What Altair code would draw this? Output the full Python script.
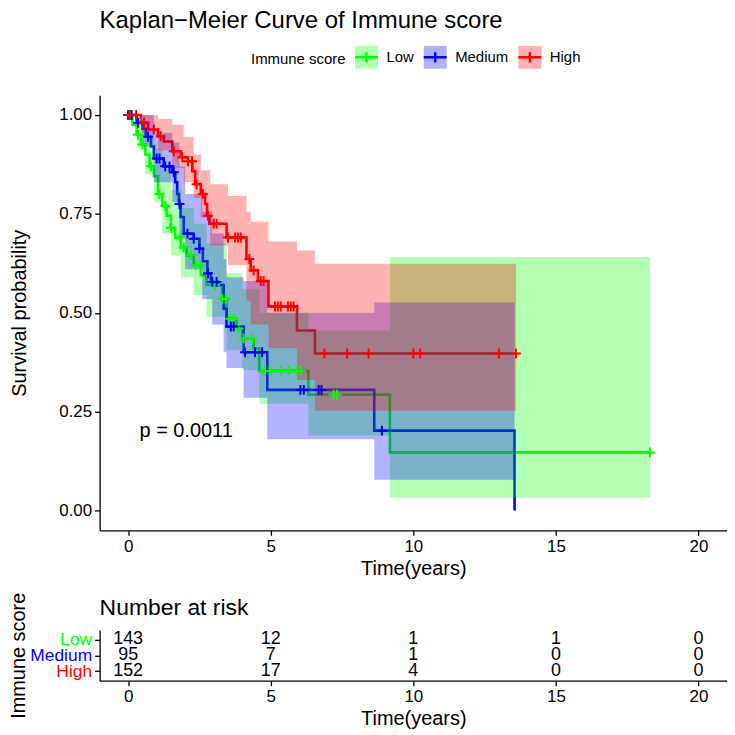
import altair as alt
import numpy as np
import pandas as pd

FONT = "Liberation Sans"
GROUPS = ["Low", "Medium", "High"]
COLORS = ["#00FF00", "#0000FF", "#FF0000"]

# ---- Kaplan-Meier step curves (time in years, survival after the step) ----
low_t = [0, 0.15, 0.30, 0.45, 0.60, 0.75, 0.90, 1.05, 1.20, 1.35, 1.50, 1.65, 1.85, 2.05, 2.30,
         2.55, 2.75, 3.30, 3.45, 3.80, 4.00, 4.40, 4.60, 6.32, 9.18, 18.3]
low_s = [1.0, 0.975, 0.95, 0.925, 0.90, 0.87, 0.845, 0.80, 0.77, 0.745, 0.715, 0.69, 0.665, 0.645, 0.62,
         0.595, 0.57, 0.535, 0.485, 0.46, 0.435, 0.41, 0.353, 0.293, 0.147, 0.147]

med_t = [0, 0.30, 0.50, 0.62, 0.80, 0.90, 1.25, 1.55, 1.65, 1.72, 1.78, 1.84, 1.95, 2.30, 2.50,
         2.62, 2.78, 2.90, 3.15, 3.35, 3.45, 4.05, 4.88, 8.63, 13.55]
med_s = [1.0, 0.98, 0.965, 0.945, 0.92, 0.89, 0.87, 0.855, 0.83, 0.80, 0.775, 0.742, 0.70, 0.687, 0.662,
         0.63, 0.60, 0.578, 0.57, 0.51, 0.465, 0.40, 0.305, 0.202, 0.0]

high_t = [0, 0.45, 0.70, 1.05, 1.25, 1.55, 1.85, 2.10, 2.25, 2.35, 2.55, 2.70, 2.77, 2.85, 3.45,
          4.15, 4.30, 4.55, 4.92, 5.92, 6.55, 13.6]
high_s = [1.0, 0.98, 0.963, 0.946, 0.933, 0.908, 0.893, 0.883, 0.858, 0.825, 0.80, 0.775, 0.745, 0.725, 0.69,
          0.636, 0.607, 0.580, 0.516, 0.455, 0.397, 0.397]

# ---- censoring times ----
low_c = [0.1, 0.35, 0.5, 0.8, 1.1, 1.3, 1.5, 1.84, 1.95, 2.2, 2.37, 2.54, 3.05, 3.3, 3.42, 3.58, 3.7,
         3.87, 4.05, 4.37, 4.78, 5.0, 5.36, 5.63, 5.92, 6.05, 7.2, 7.32, 18.3]
med_c = [0.0, 0.12, 0.35, 0.7, 1.0, 1.1, 1.3, 1.45, 1.6, 1.8, 2.08, 2.3, 2.5, 2.8, 2.95, 3.1, 3.6, 3.7,
         4.1, 4.45, 4.7, 6.04, 6.16, 6.68, 6.78, 8.9]
high_c = [0.04, 0.28, 0.56, 0.9, 1.14, 1.6, 1.9, 2.1, 2.24, 2.4, 2.62, 2.8, 3.0, 3.1, 3.5, 3.75, 3.85,
          3.95, 4.25, 4.4, 4.65, 4.75, 5.15, 5.25, 5.35, 5.6, 5.7, 5.8, 6.88, 7.68, 8.43, 10.0, 10.24,
          13.0, 13.6]

# ---- 95% confidence bands (step) ----
low_bt = [0, 0.3, 0.6, 0.9, 1.2, 1.5, 1.85, 2.3, 2.75, 3.45, 4.0, 4.6, 6.32, 9.18, 18.3]
low_lo = [1.0, 0.92, 0.85, 0.78, 0.70, 0.645, 0.59, 0.545, 0.49, 0.405, 0.355, 0.27, 0.19, 0.033, 0.033]
low_hi = [1.0, 0.995, 0.955, 0.915, 0.86, 0.81, 0.765, 0.725, 0.675, 0.60, 0.56, 0.50, 0.455, 0.641, 0.641]

med_bt = [0, 0.5, 0.9, 1.55, 1.8, 2.0, 2.6, 2.95, 3.35, 3.45, 4.05, 4.88, 8.63, 13.55]
med_lo = [1.0, 0.92, 0.83, 0.78, 0.69, 0.61, 0.535, 0.47, 0.40, 0.36, 0.285, 0.18, 0.078, 0.078]
med_hi = [1.0, 1.0, 0.955, 0.93, 0.87, 0.80, 0.755, 0.70, 0.635, 0.59, 0.58, 0.50, 0.526, 0.526]

high_bt = [0, 0.45, 1.05, 1.55, 1.95, 2.3, 2.55, 2.88, 3.5, 4.15, 4.3, 4.92, 5.92, 6.55, 13.6]
high_lo = [1.0, 0.955, 0.91, 0.865, 0.83, 0.79, 0.74, 0.67, 0.62, 0.53, 0.47, 0.41, 0.33, 0.252, 0.252]
high_hi = [1.0, 1.0, 0.99, 0.975, 0.945, 0.90, 0.86, 0.825, 0.795, 0.755, 0.73, 0.68, 0.657, 0.624, 0.624]

# ---- number at risk ----
risk_times = [0, 5, 10, 15, 20]
risk_low = [143, 12, 1, 1, 0]
risk_med = [95, 7, 1, 0, 0]
risk_high = [152, 17, 4, 0, 0]

pval_text = "p = 0.0011"
pval_t, pval_s = 0.4, 0.2

# ---------------- build tables ----------------
curves = {"Low": (low_t, low_s), "Medium": (med_t, med_s), "High": (high_t, high_s)}
censors = {"Low": low_c, "Medium": med_c, "High": high_c}
bands = {"Low": (low_bt, low_lo, low_hi), "Medium": (med_bt, med_lo, med_hi),
         "High": (high_bt, high_lo, high_hi)}
risks = {"Low": risk_low, "Medium": risk_med, "High": risk_high}

curve_rows, cens_rows, band_rows, risk_rows = [], [], [], []
for g in GROUPS:
    ts, ss = curves[g]
    for t, s in zip(ts, ss):
        curve_rows.append({"group": g, "time": t, "surv": s})
    ta, sa = np.array(ts), np.array(ss)
    for c in censors[g]:
        i = max(int(np.searchsorted(ta, c, side="right")) - 1, 0)
        cens_rows.append({"group": g, "time": c, "surv": float(sa[i])})
    bt, lo, hi = bands[g]
    for t, l, h in zip(bt, lo, hi):
        band_rows.append({"group": g, "time": t, "lower": l, "upper": h})
    for t, n in zip(risk_times, risks[g]):
        risk_rows.append({"group": g, "time": t, "n": n})

curve_df = pd.DataFrame(curve_rows)
cens_df = pd.DataFrame(cens_rows)
band_df = pd.DataFrame(band_rows)
risk_df = pd.DataFrame(risk_rows)
pval_df = pd.DataFrame({"time": [pval_t], "surv": [pval_s], "label": [pval_text]})

W = 630
H_MAIN = 437
H_RISK = 51

xscale = alt.Scale(domain=[-1, 21], nice=False, zero=False)
yscale = alt.Scale(domain=[-0.05, 1.05], nice=False, zero=False)
xaxis = alt.Axis(values=[0, 5, 10, 15, 20], title="Time(years)", titlePadding=4)

X = alt.X("time:Q", scale=xscale, axis=xaxis)
Y = alt.Y("surv:Q", scale=yscale,
          axis=alt.Axis(values=[0, 0.25, 0.5, 0.75, 1.0], format=".2f",
                        title="Survival probability", titlePadding=29))

LEG_COMMON = dict(
    title="Immune score", orient="none", legendX=152, legendY=-51,
    direction="horizontal", titleOrient="left", gridAlign="none",
    symbolSize=529, symbolStrokeWidth=2.5, labelLimit=200,
    labelFontSize=15, titleFontSize=15, labelFont=FONT, titleFont=FONT,
    labelColor="black", titleColor="black", titleFontWeight="normal",
    labelOffset=7, columnPadding=4, titlePadding=7, padding=0, offset=0,
)

stroke_enc = alt.Stroke(
    "group:N",
    scale=alt.Scale(domain=GROUPS, range=COLORS),
    legend=alt.Legend(
        symbolType="M-1,-1M1,1M-1,0L1,0M0,-0.45L0,0.45",
        symbolFillColor="transparent", titleOpacity=0, labelOpacity=0,
        **LEG_COMMON,
    ),
)

fill_enc = alt.Fill(
    "group:N",
    sort=GROUPS,
    scale=alt.Scale(range=COLORS),
    legend=alt.Legend(
        symbolType="M-1,-1L1,-1L1,1L-1,1Z", symbolOpacity=0.3,
        symbolStrokeColor="transparent",
        **LEG_COMMON,
    ),
)

lines = alt.Chart(curve_df).mark_line(interpolate="step-after", strokeWidth=2.6).encode(
    x=X, y=Y, stroke=stroke_enc
)

band_layers = []
for g in GROUPS:
    band_layers.append(
        alt.Chart(band_df).transform_filter(alt.datum.group == g)
        .mark_area(interpolate="step-after", opacity=0.3)
        .encode(x=X, y=alt.Y("lower:Q", scale=yscale), y2="upper:Q", fill=fill_enc)
    )

cens = alt.Chart(cens_df).mark_point(
    shape="M-1,0L1,0M0,-1L0,1", size=100, strokeWidth=2, filled=False, opacity=1
).encode(x=X, y="surv:Q", stroke=stroke_enc)

pval = alt.Chart(pval_df).mark_text(
    align="left", baseline="middle", fontSize=20, font=FONT, color="black"
).encode(x="time:Q", y="surv:Q", text="label:N")

main = alt.layer(lines, *band_layers, cens, pval).properties(
    width=W, height=H_MAIN,
    title=alt.TitleParams("Kaplan\u2212Meier Curve of Immune score", anchor="start", frame="group",
                          fontSize=24, font=FONT, fontWeight="normal", color="black", offset=11),
)

label_color = {
    "condition": [
        {"test": "datum.value === 'Low'", "value": COLORS[0]},
        {"test": "datum.value === 'Medium'", "value": COLORS[1]},
    ],
    "value": COLORS[2],
}

risk = alt.Chart(risk_df).mark_text(fontSize=18, font=FONT, color="black").encode(
    x=alt.X("time:Q", scale=xscale, axis=xaxis),
    y=alt.Y("group:N", sort=GROUPS, scale=alt.Scale(type="point", padding=0.6),
            axis=alt.Axis(title="Immune score", labelColor=label_color, labelFontSize=17.5,
                          titlePadding=1)),
    text="n:Q",
).properties(
    width=W, height=H_RISK,
    title=alt.TitleParams("Number at risk", anchor="start", frame="group", fontSize=23, font=FONT,
                          fontWeight="normal", color="black", offset=-28),
)

chart = alt.vconcat(main, risk, spacing=14).resolve_scale(
    fill="independent", stroke="independent"
).properties(padding=0).configure_view(stroke=None).configure_axis(
    grid=False, domainColor="black", domainWidth=1.3, tickColor="black", tickWidth=1.3,
    tickSize=5, labelColor="black", labelFontSize=17, labelFont=FONT, labelPadding=3,
    titleFont=FONT, titleFontSize=20, titleFontWeight="normal", titleColor="black",
)

chart.save("out.html", embed_options={"renderer": "svg", "actions": False})
